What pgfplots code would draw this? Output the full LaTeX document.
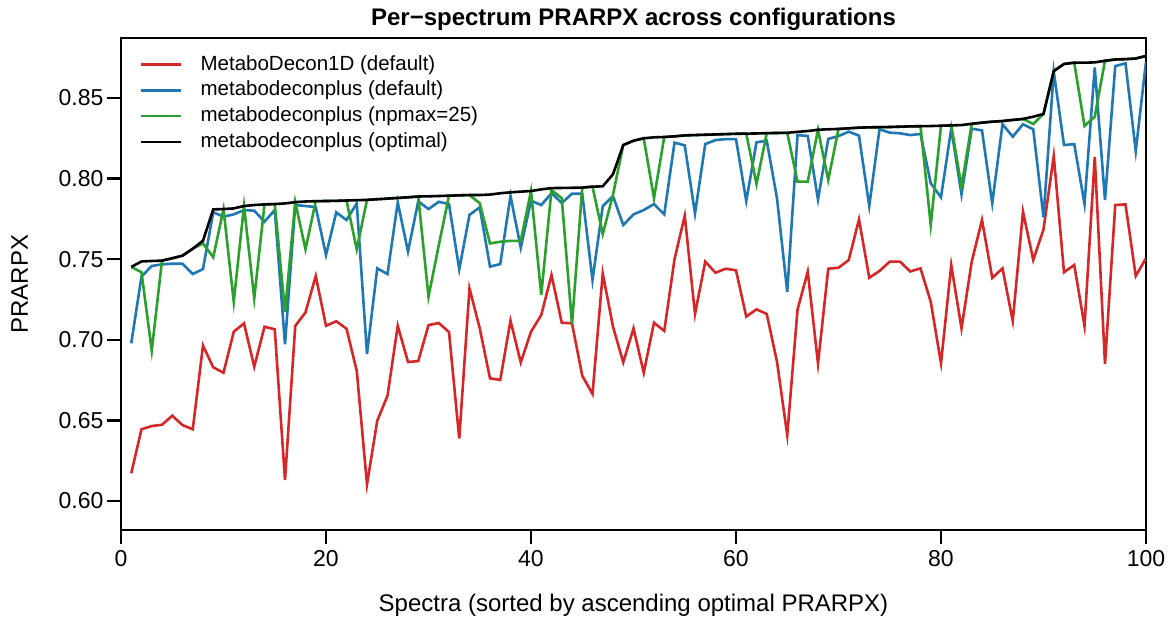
\documentclass[border=0pt]{standalone}
\usepackage{fontspec}
\setmainfont{Liberation Sans}
\usepackage{pgfplots}
\pgfplotsset{compat=1.18}
\usepackage{pgfplotstable}

\definecolor{cred}{RGB}{214,39,40}
\definecolor{cblue}{RGB}{31,119,180}
\definecolor{cgreen}{RGB}{44,160,44}

\pgfplotstableread{
i red blue green black
1 0.6172 0.6978 0.7452 0.7452
2 0.6445 0.7392 0.7419 0.7486
3 0.6465 0.7458 0.6933 0.7489
4 0.6473 0.7468 0.7491 0.7491
5 0.6529 0.7472 0.7506 0.7506
6 0.6471 0.7472 0.7522 0.7522
7 0.6445 0.7408 0.7565 0.7565
8 0.6964 0.7439 0.7598 0.7615
9 0.6829 0.7791 0.7512 0.7809
10 0.6796 0.7764 0.7811 0.7811
11 0.7050 0.7778 0.7236 0.7815
12 0.7102 0.7805 0.7830 0.7830
13 0.6833 0.7801 0.7257 0.7836
14 0.7081 0.7733 0.7840 0.7840
15 0.7065 0.7805 0.7842 0.7842
16 0.6130 0.6972 0.7174 0.7846
17 0.7086 0.7836 0.7854 0.7854
18 0.7170 0.7830 0.7561 0.7858
19 0.7396 0.7823 0.7860 0.7860
20 0.7087 0.7526 0.7861 0.7861
21 0.7115 0.7791 0.7862 0.7862
22 0.7069 0.7743 0.7864 0.7864
23 0.6808 0.7846 0.7561 0.7866
24 0.6103 0.6912 0.7868 0.7868
25 0.6498 0.7443 0.7872 0.7872
26 0.6653 0.7408 0.7876 0.7876
27 0.7087 0.7853 0.7880 0.7880
28 0.6862 0.7547 0.7884 0.7884
29 0.6868 0.7859 0.7889 0.7889
30 0.7091 0.7811 0.7267 0.7890
31 0.7104 0.7856 0.7586 0.7892
32 0.7048 0.7842 0.7894 0.7894
33 0.6387 0.7437 0.7896 0.7896
34 0.7319 0.7775 0.7898 0.7898
35 0.7071 0.7822 0.7847 0.7898
36 0.6761 0.7454 0.7598 0.7901
37 0.6751 0.7470 0.7608 0.7909
38 0.7119 0.7892 0.7614 0.7915
39 0.6860 0.7571 0.7614 0.7919
40 0.7050 0.7863 0.7923 0.7923
41 0.7154 0.7836 0.7278 0.7933
42 0.7402 0.7909 0.7929 0.7941
43 0.7106 0.7849 0.7878 0.7942
44 0.7102 0.7906 0.7096 0.7943
45 0.6777 0.7906 0.7944 0.7944
46 0.6664 0.7371 0.7950 0.7950
47 0.7412 0.7829 0.7656 0.7952
48 0.7081 0.7892 0.7900 0.8027
49 0.6860 0.7712 0.8208 0.8208
50 0.7071 0.7778 0.8235 0.8235
51 0.6796 0.7805 0.8250 0.8250
52 0.7106 0.7842 0.7878 0.8256
53 0.7055 0.7778 0.8258 0.8258
54 0.7499 0.8223 0.8262 0.8262
55 0.7770 0.8206 0.8268 0.8268
56 0.7160 0.7783 0.8270 0.8270
57 0.7485 0.8214 0.8272 0.8272
58 0.7416 0.8239 0.8274 0.8274
59 0.7441 0.8245 0.8276 0.8276
60 0.7431 0.8245 0.8278 0.8278
61 0.7144 0.7861 0.8279 0.8279
62 0.7189 0.8225 0.7966 0.8280
63 0.7160 0.8235 0.8282 0.8282
64 0.6864 0.7878 0.8283 0.8283
65 0.6409 0.7298 0.8284 0.8284
66 0.7186 0.8270 0.7981 0.8290
67 0.7423 0.8264 0.7981 0.8295
68 0.6852 0.7870 0.8303 0.8303
69 0.7441 0.8246 0.7991 0.8306
70 0.7447 0.8264 0.8308 0.8308
71 0.7495 0.8291 0.8312 0.8312
72 0.7747 0.8266 0.8316 0.8316
73 0.7385 0.7830 0.8318 0.8318
74 0.7427 0.8306 0.8319 0.8319
75 0.7485 0.8285 0.8320 0.8320
76 0.7485 0.8281 0.8322 0.8322
77 0.7424 0.8270 0.8324 0.8324
78 0.7443 0.8277 0.8325 0.8325
79 0.7236 0.7971 0.7712 0.8326
80 0.6854 0.7884 0.8328 0.8328
81 0.7464 0.8310 0.8330 0.8330
82 0.7071 0.7902 0.7950 0.8332
83 0.7485 0.8310 0.8340 0.8340
84 0.7743 0.8299 0.8347 0.8347
85 0.7384 0.7847 0.8353 0.8353
86 0.7443 0.8337 0.8357 0.8357
87 0.7117 0.8260 0.8364 0.8364
88 0.7795 0.8337 0.8370 0.8370
89 0.7495 0.8306 0.8339 0.8384
90 0.7685 0.7760 0.8401 0.8401
91 0.8140 0.8663 0.8667 0.8667
92 0.7419 0.8208 0.8711 0.8711
93 0.7464 0.8214 0.8719 0.8719
94 0.7086 0.7842 0.8326 0.8719
95 0.8134 0.8690 0.8384 0.8721
96 0.6850 0.7867 0.8731 0.8731
97 0.7836 0.8698 0.8739 0.8739
98 0.7840 0.8715 0.8741 0.8741
99 0.7396 0.8171 0.8745 0.8745
100 0.7506 0.8725 0.8761 0.8761
}\data

\begin{document}
\begin{tikzpicture}
\path[use as bounding box] (0,0) rectangle (1173pt,625pt);
\begin{axis}[
  at={(121pt,95pt)}, anchor=south west,
  scale only axis, width=1025pt, height=492pt,
  xmin=0, xmax=100, ymin=0.58201, ymax=0.88722,
  axis line style={line width=2.4pt},
  every tick/.style={black, line width=2.4pt},
  tick align=outside, major tick length=14pt,
  xtick pos=bottom, ytick pos=left,
  xtick={0,20,40,60,80,100},
  ytick={0.60,0.65,0.70,0.75,0.80,0.85},
  /pgf/number format/assume math mode=true,
  yticklabel style={/pgf/number format/.cd, fixed, fixed zerofill, precision=2},
  ticklabel style={font=\fontsize{23}{27}\selectfont},
  xticklabel style={yshift=-3pt},
  title={\textbf{Per−spectrum PRARPX across configurations}},
  title style={font=\fontsize{24}{28}\selectfont, at={(axis description cs:0.5,1)}, anchor=base, yshift=7pt},
  xlabel={Spectra (sorted by ascending optimal PRARPX)},
  xlabel style={font=\fontsize{24}{28}\selectfont, at={(axis description cs:0.5,0)}, anchor=base, yshift=-81pt},
  ylabel={PRARPX},
  ylabel style={font=\fontsize{24}{28}\selectfont, at={(axis description cs:0,0.5)}, anchor=base, yshift=93pt},
  legend cell align=left,
  legend image code/.code={\draw[#1] (0pt,0pt) -- (40pt,0pt);},
  legend style={draw=none, fill=none, inner sep=0pt, outer sep=0pt,
    at={(axis description cs:0,1)}, anchor=north west, xshift=19pt, yshift=-17pt,
    font=\fontsize{20.5}{24}\selectfont, row sep=6.2pt, column sep=18pt,
    nodes={inner sep=0pt, text height=15pt, text depth=4.5pt}},
]
\addplot[cred, line width=2.6pt] table[x=i, y=red] {\data};
\addlegendentry{MetaboDecon1D (default)}
\addplot[cblue, line width=2.6pt] table[x=i, y=blue] {\data};
\addlegendentry{metabodeconplus (default)}
\addplot[cgreen, line width=2.6pt] table[x=i, y=green] {\data};
\addlegendentry{metabodeconplus (npmax=25)}
\addplot[black, line width=2.6pt] table[x=i, y=black] {\data};
\addlegendentry{metabodeconplus (optimal)}
\end{axis}
\end{tikzpicture}
\end{document}
